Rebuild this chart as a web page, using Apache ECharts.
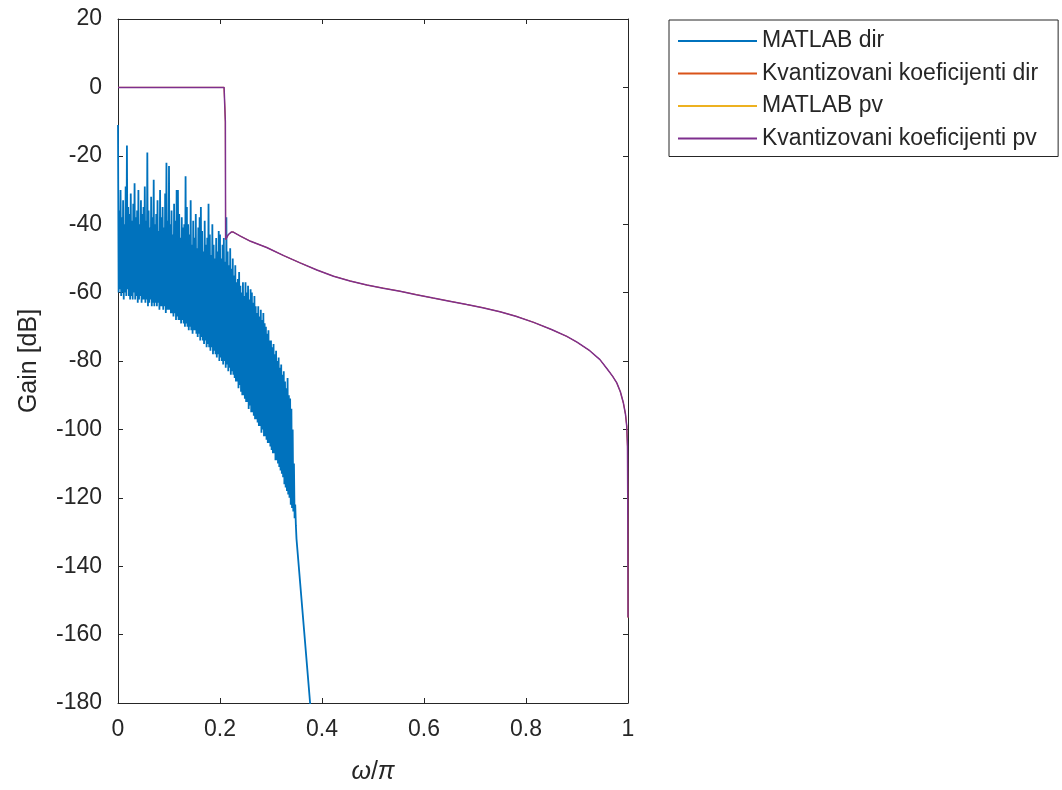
<!DOCTYPE html>
<html>
<head>
<meta charset="utf-8">
<script src="https://cdn.jsdelivr.net/npm/echarts@6/dist/echarts.min.js"></script>
<style>
html,body{margin:0;padding:0;background:#fff;}
#chart{width:1062px;height:790px;}
</style>
</head>
<body>
<div id="chart"></div>
<script>
// ---- data ----
const legendNames = ['MATLAB dir', 'Kvantizovani koeficijenti dir', 'MATLAB pv', 'Kvantizovani koeficijenti pv'];
const xTicks = [0, 0.2, 0.4, 0.6, 0.8, 1];
const yTicks = [20, 0, -20, -40, -60, -80, -100, -120, -140, -160, -180];

// MATLAB dir: noisy band, sampled every 0.0025 (upper / lower excursions)
const blueStep = 0.0025;
const blueHi = [
  -11, -36, -30, -38, -33, -40, -29, -17, -35, -37,
  -31, -39, -34, -28, -38, -36, -30, -40, -33, -37,
  -35, -29, -39, -19, -36, -41, -32, -38, -27, -40,
  -37, -33, -42, -30, -38, -35, -41, -31, -22, -39,
  -23, -40, -36, -43, -34, -39, -30, -30, -37, -44,
  -38, -41, -40, -26, -35, -40, -43, -33, -46, -39,
  -44, -37, -47, -41, -38, -35, -42, -48, -39, -46,
  -44, -34, -43, -49, -40, -46, -50, -44, -48, -42,
  -43, -50, -46, -44, -51, -38, -48, -52, -47, -53,
  -50, -55, -52, -57, -56, -54, -58, -60, -57, -61,
  -57, -60, -58, -62, -59, -60, -63, -61, -64, -66,
  -64, -67, -65, -68, -66, -69, -70, -72, -71, -74,
  -74, -76, -75, -78, -77, -80, -79, -82, -81, -84,
  -83, -86, -88, -85, -90, -91, -94, -100, -110, -122
];
const blueLo = [
  -60, -59, -61, -60, -62, -60, -61, -59, -61, -62,
  -61, -62, -60, -62, -61, -63, -62, -61, -63, -62,
  -62, -63, -62, -64, -63, -62, -64, -63, -64, -63,
  -64, -63, -65, -64, -64, -65, -64, -66, -65, -65,
  -65, -66, -66, -67, -66, -68, -67, -68, -68, -69,
  -68, -69, -70, -69, -70, -71, -70, -71, -72, -71,
  -71, -72, -73, -72, -74, -73, -74, -75, -74, -76,
  -75, -76, -77, -76, -78, -77, -78, -79, -78, -80,
  -79, -80, -81, -80, -82, -81, -83, -82, -84, -83,
  -84, -85, -86, -86, -88, -87, -89, -90, -90, -91,
  -92, -92, -94, -93, -95, -95, -96, -97, -97, -98,
  -99, -99, -101, -100, -102, -102, -103, -104, -104, -105,
  -106, -107, -107, -109, -109, -110, -111, -112, -113, -114,
  -116, -117, -118, -119, -120, -122, -123, -124, -126, -128
];
const blueTail = [[0.35, -132], [0.365, -159], [0.38, -186]];

// quantized / pv responses (all three coincide)
const pvX = [0, 0.208, 0.2105, 0.211, 0.2125, 0.216, 0.222, 0.226, 0.24, 0.26, 0.2915, 0.325, 0.357, 0.39, 0.4226, 0.455, 0.488, 0.52, 0.553, 0.585, 0.618, 0.65, 0.684, 0.715, 0.749, 0.78, 0.815, 0.85, 0.88, 0.9, 0.925, 0.945, 0.96, 0.97, 0.978, 0.985, 0.991, 0.995, 0.9975, 0.999, 0.9995, 1.0];
const pvY = [0, 0, -10, -44.5, -45, -43.1, -42.3, -42.3, -43.5, -45, -46.8, -49.2, -51.3, -53.4, -55.2, -56.6, -57.8, -58.7, -59.6, -60.6, -61.6, -62.5, -63.5, -64.4, -65.6, -66.9, -68.7, -70.8, -72.8, -74.5, -77, -79.6, -82.5, -84.5, -86.4, -89, -92.3, -95.5, -99, -105, -120, -155];

// ---- build series data ----
const blueData = [];
for (let i = 0; i < blueHi.length; i++) {
  blueData.push([i * blueStep, blueHi[i]]);
  blueData.push([i * blueStep + blueStep / 2, blueLo[i]]);
}
blueTail.forEach(p => blueData.push(p));
const pvData = pvX.map((x, i) => [x, pvY[i]]);

const FONT = "'Liberation Sans', Arial, Helvetica, sans-serif";
const AX = '#262626';
const colors = ['#0072BD', '#D95319', '#EDB120', '#7E2F8E'];

const chart = echarts.init(document.getElementById('chart'), null, {renderer: 'canvas'});

const baseX = {
  type: 'value', min: xTicks[0], max: xTicks[xTicks.length - 1], interval: 0.2,
  splitLine: {show: false},
  axisLine: {show: true, onZero: false, lineStyle: {color: AX, width: 1}},
  axisTick: {show: true, inside: true, length: 5, lineStyle: {color: AX, width: 1}},
};
const baseY = {
  type: 'value', min: yTicks[yTicks.length - 1], max: yTicks[0], interval: 20,
  splitLine: {show: false},
  axisLine: {show: true, onZero: false, lineStyle: {color: AX, width: 1}},
  axisTick: {show: true, inside: true, length: 5, lineStyle: {color: AX, width: 1}},
};

chart.setOption({
  animation: false,
  backgroundColor: '#fff',
  color: colors,
  grid: {left: 118, right: 434, top: 19, bottom: 87, containLabel: false},
  legend: {
    orient: 'vertical', left: 669, top: 20,
    data: legendNames,
    icon: 'rect',
    itemWidth: 79, itemHeight: 2, itemGap: 9.5,
    padding: [9.5, 20, 6.5, 9],
    borderColor: AX, borderWidth: 1, backgroundColor: '#fff',
    textStyle: {fontFamily: FONT, fontSize: 23, color: AX, lineHeight: 23},
    selectedMode: false
  },
  xAxis: [
    Object.assign({}, baseX, {
      position: 'bottom',
      axisLabel: {show: true, margin: 15, fontFamily: FONT, fontSize: 23, color: AX},
      name: '{i|ω}/{i|π}', nameLocation: 'middle', nameGap: 57,
      nameTextStyle: {fontFamily: FONT, fontSize: 25, color: AX,
        rich: {i: {fontFamily: FONT, fontSize: 25, fontStyle: 'italic', color: AX}}}
    }),
    Object.assign({}, baseX, {position: 'top', axisLabel: {show: false}})
  ],
  yAxis: [
    Object.assign({}, baseY, {
      position: 'left',
      axisLabel: {show: true, margin: 16, fontFamily: FONT, fontSize: 23, color: AX},
      name: 'Gain [dB]', nameLocation: 'middle', nameGap: 76, nameRotate: 90,
      nameTextStyle: {fontFamily: FONT, fontSize: 25, color: AX}
    }),
    Object.assign({}, baseY, {position: 'right', axisLabel: {show: false}})
  ],
  series: [
    {name: legendNames[0], type: 'line', data: blueData, symbol: 'none', showSymbol: false,
     lineStyle: {width: 1.8, color: colors[0]}, itemStyle: {color: colors[0]}, clip: true, z: 2},
    {name: legendNames[1], type: 'line', data: pvData, symbol: 'none', showSymbol: false,
     lineStyle: {width: 0.8, color: colors[1]}, itemStyle: {color: colors[1]}, clip: true, z: 3},
    {name: legendNames[2], type: 'line', data: pvData, symbol: 'none', showSymbol: false,
     lineStyle: {width: 0.8, color: colors[2]}, itemStyle: {color: colors[2]}, clip: true, z: 4},
    {name: legendNames[3], type: 'line', data: pvData, symbol: 'none', showSymbol: false,
     lineStyle: {width: 1.5, color: colors[3]}, itemStyle: {color: colors[3]}, clip: true, z: 5}
  ]
});
</script>
</body>
</html>
